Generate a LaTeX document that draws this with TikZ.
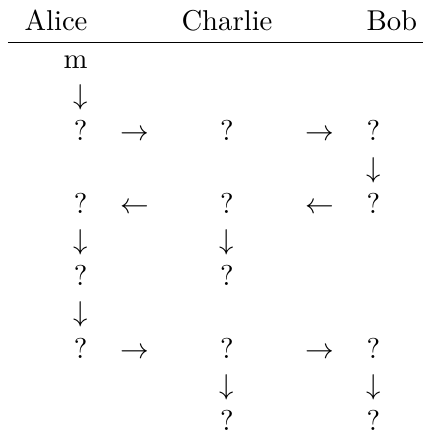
\documentclass[tikz,border=0pt]{standalone}
\begin{document}
\begin{tikzpicture}[
  x=0.3817pt, y=-0.3817pt,
  cell/.style={inner sep=0pt, font=\fontsize{10.95}{13.6}\selectfont},
  lcol/.style={cell, anchor=base east},
  ccol/.style={cell, anchor=base},
  rcol/.style={cell, anchor=base west},
  glyph/.style={cell, anchor=base}
]
\useasboundingbox (0,0) rectangle (423,433);

% column positions
\def\ca{88}   % Alice, right aligned
\def\aa{134.5}% first arrow column
\def\cc{227}  % Charlie, centred
\def\ab{320}  % second arrow column
\def\cb{366}  % Bob, left aligned

% header
\node[lcol] (hA) at (\ca,30) {Alice};
\node[ccol] (hC) at (\cc,30) {Charlie};
\node[rcol] (hB) at (\cb,30) {Bob};
\coordinate (ruleL) at (8,42.3);
\coordinate (ruleR) at (423,42.3);
\draw[line width=0.4pt] (ruleL) -- (ruleR);

% row 0-1
\node[lcol] (m) at (\ca,68) {m};
\node[lcol] (d1) at (\ca,104) {$\downarrow$};

% row 2
\node[lcol] (a2) at (\ca,140) {?};
\node[glyph] (r2a) at (\aa,140) {$\rightarrow$};
\node[ccol] (c2) at (\cc,140) {?};
\node[glyph] (r2b) at (\ab,140) {$\rightarrow$};
\node[rcol] (b2) at (\cb,140) {?};

% row 3
\node[rcol] (d3) at (\cb,177) {$\downarrow$};

% row 4
\node[lcol] (a4) at (\ca,213) {?};
\node[glyph] (l4a) at (\aa,213) {$\leftarrow$};
\node[ccol] (c4) at (\cc,213) {?};
\node[glyph] (l4b) at (\ab,213) {$\leftarrow$};
\node[rcol] (b4) at (\cb,213) {?};

% row 5-6
\node[lcol] (d5a) at (\ca,249) {$\downarrow$};
\node[ccol] (d5c) at (\cc,249) {$\downarrow$};
\node[lcol] (a6) at (\ca,285) {?};
\node[ccol] (c6) at (\cc,285) {?};

% row 7
\node[lcol] (d7) at (\ca,321) {$\downarrow$};

% row 8
\node[lcol] (a8) at (\ca,358) {?};
\node[glyph] (r8a) at (\aa,358) {$\rightarrow$};
\node[ccol] (c8) at (\cc,358) {?};
\node[glyph] (r8b) at (\ab,358) {$\rightarrow$};
\node[rcol] (b8) at (\cb,358) {?};

% row 9-10
\node[ccol] (d9c) at (\cc,394) {$\downarrow$};
\node[rcol] (d9b) at (\cb,394) {$\downarrow$};
\node[ccol] (c10) at (\cc,430) {?};
\node[rcol] (b10) at (\cb,430) {?};
\end{tikzpicture}
\end{document}
